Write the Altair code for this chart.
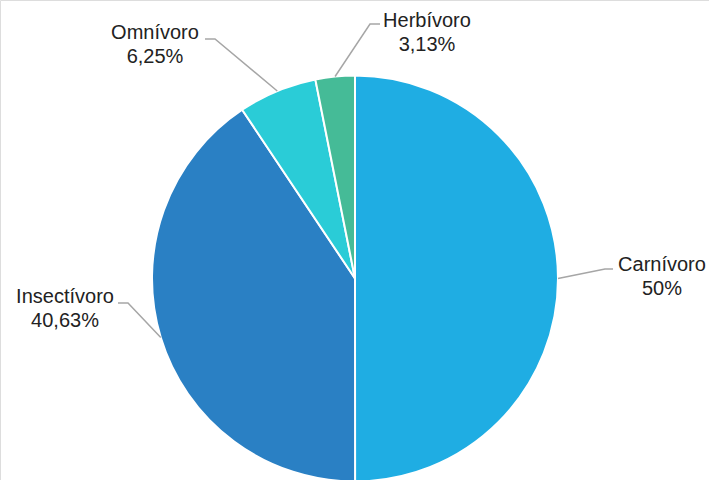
import math
import altair as alt
import pandas as pd

# ---- data ----
categories = ["Carnívoro", "Insectívoro", "Omnívoro", "Herbívoro"]
values = [50.0, 40.63, 6.25, 3.13]
pct_labels = ["50%", "40,63%", "6,25%", "3,13%"]
colors = ["#1FADE3", "#2A80C4", "#2ACCD7", "#45BB97"]

# ---- layout (pixels) ----
W, H = 709, 480
CX, CY, R = 355, 278.5, 203
# label anchor: centre x, baseline of first line; leader elbow and end
label_pos = {
    "Carnívoro": dict(tx=662, ty=271, ex=605, ey=269, hx=613),
    "Insectívoro": dict(tx=65, ty=303, ex=128, ey=303, hx=118),
    "Omnívoro": dict(tx=155, ty=39, ex=215, ey=39, hx=205),
    "Herbívoro": dict(tx=427, ty=27, ex=370, ey=24, hx=380),
}
LINE_H = 23.5

pie_df = pd.DataFrame({"cat": categories, "val": values, "idx": range(len(values))})

total = sum(values)
lines, texts = [], []
cum = 0.0
for c, v, p in zip(categories, values, pct_labels):
    mid = (cum + v / 2) / total * 2 * math.pi
    cum += v
    sx = CX + R * math.sin(mid)
    sy = CY - R * math.cos(mid)
    lp = label_pos[c]
    lines += [
        dict(cat=c, o=0, x=sx, y=sy),
        dict(cat=c, o=1, x=lp["ex"], y=lp["ey"]),
        dict(cat=c, o=2, x=lp["hx"], y=lp["ey"]),
    ]
    texts += [
        dict(t=c, x=lp["tx"], y=lp["ty"]),
        dict(t=p, x=lp["tx"], y=lp["ty"] + LINE_H),
    ]
line_df = pd.DataFrame(lines)
text_df = pd.DataFrame(texts)

xs = alt.Scale(domain=[0, W], range=[0, W])
ys = alt.Scale(domain=[0, H], range=[0, H])

pie = alt.Chart(pie_df).mark_arc(radius=R, stroke="white", strokeWidth=2).encode(
    theta=alt.Theta("val:Q", stack=True),
    order=alt.Order("idx:Q"),
    color=alt.Color("cat:N", scale=alt.Scale(domain=categories, range=colors), legend=None),
    x=alt.value(CX),
    y=alt.value(CY),
)

leaders = alt.Chart(line_df).mark_line(color="#A6A6A6", strokeWidth=1.5).encode(
    x=alt.X("x:Q", scale=xs, axis=None),
    y=alt.Y("y:Q", scale=ys, axis=None),
    detail="cat:N",
    order="o:Q",
)

labels = alt.Chart(text_df).mark_text(
    font="Liberation Sans", fontSize=20, color="#222222", align="center", baseline="alphabetic"
).encode(
    x=alt.X("x:Q", scale=xs, axis=None),
    y=alt.Y("y:Q", scale=ys, axis=None),
    text="t:N",
)

chart = (
    alt.layer(pie, leaders, labels)
    .resolve_scale(color="independent")
    .properties(width=W, height=H, padding=0, autosize=alt.AutoSizeParams(type="none"))
    .configure_view(stroke=None)
    .configure(background="white")
)

chart.save("out.html", embed_options={"renderer": "svg", "actions": False})
